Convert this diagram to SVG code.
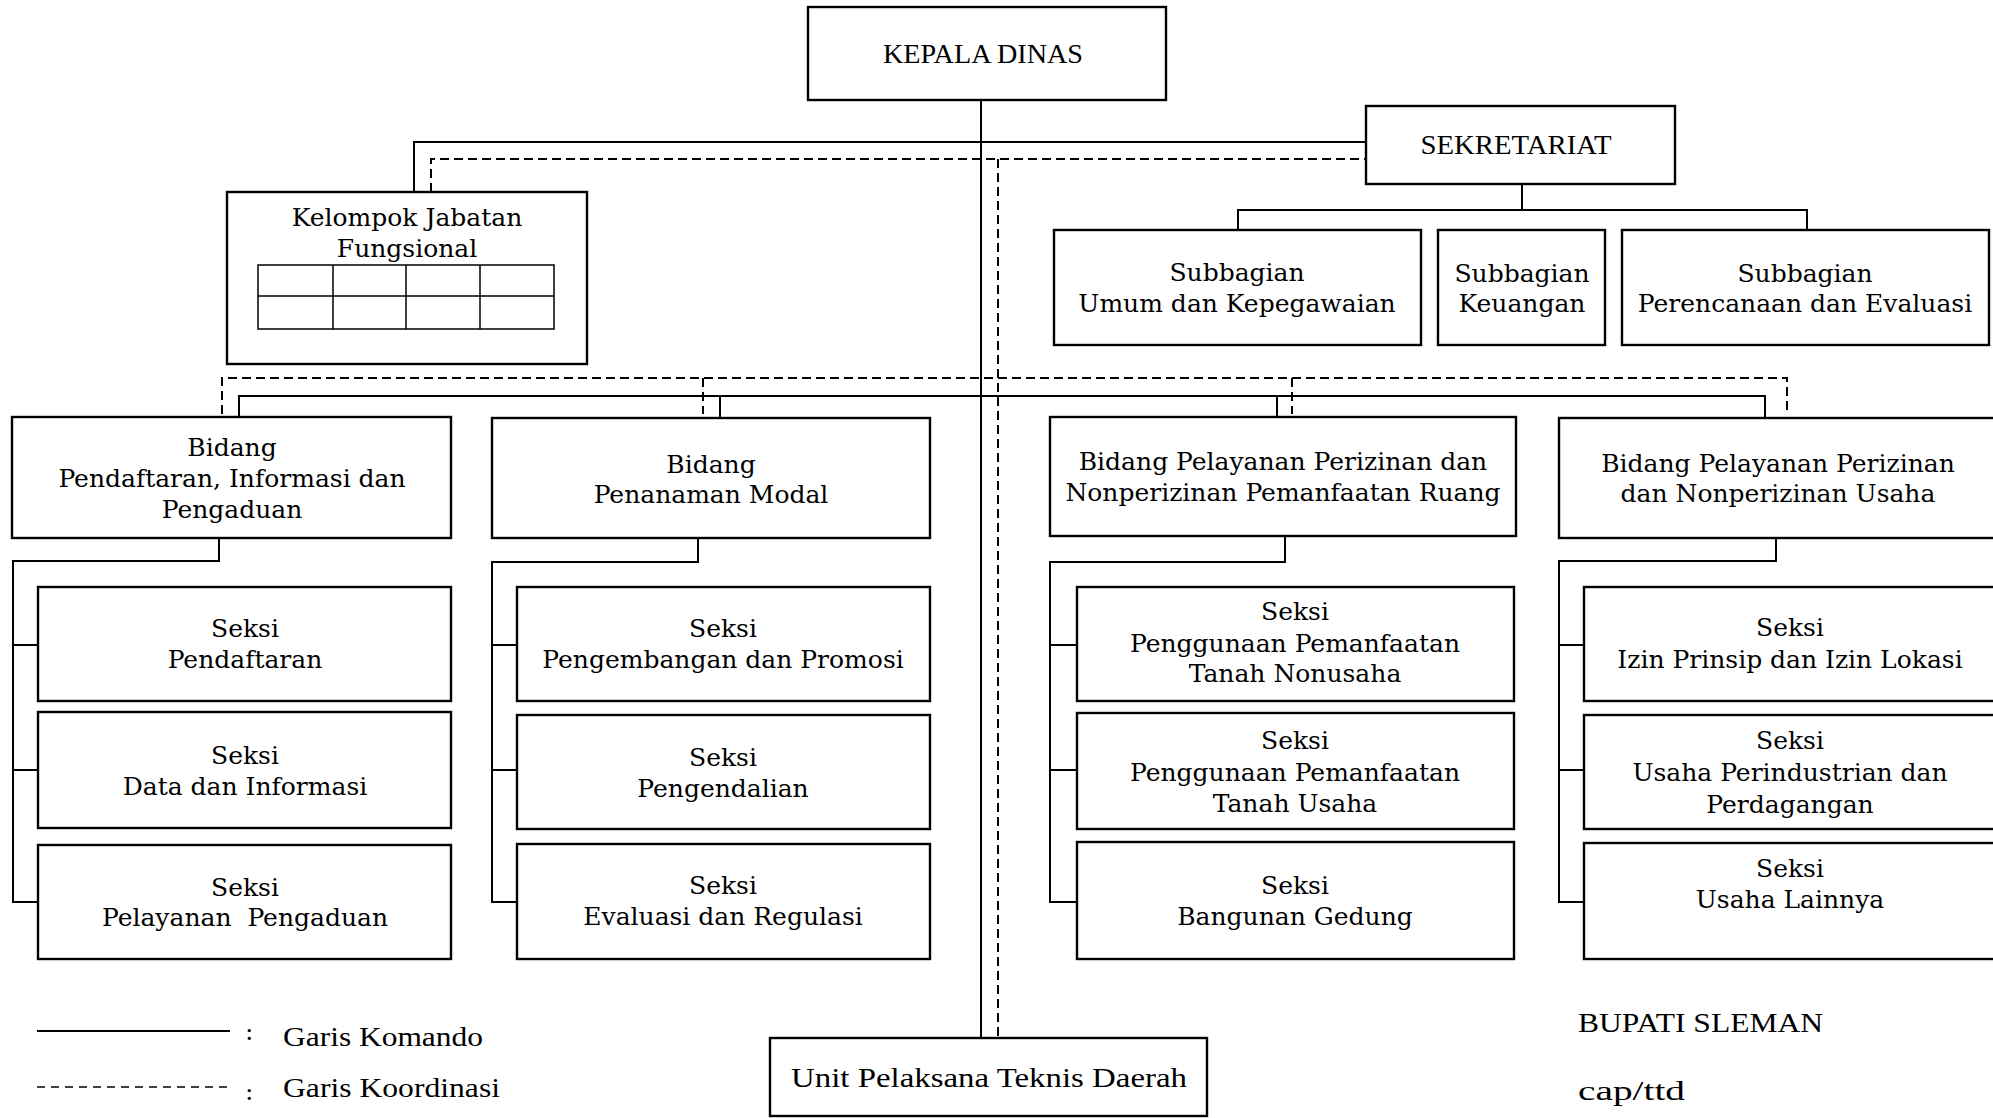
<svg xmlns="http://www.w3.org/2000/svg" width="1993" height="1118" viewBox="0 0 1993 1118">
<style>
.box{fill:#fff;stroke:#000;stroke-width:2.4}
.ln{fill:none;stroke:#000;stroke-width:2}
.dash{fill:none;stroke:#000;stroke-width:2;stroke-dasharray:9 5}
.thin{fill:none;stroke:#000;stroke-width:1.5}
.t{font-family:"DejaVu Serif",serif;font-size:25px;text-anchor:middle;fill:#000}
.s{font-family:"Liberation Serif",serif;font-size:28px;fill:#000}
.l{font-family:"DejaVu Serif",serif;font-size:25px;fill:#000}
</style>
<rect width="1993" height="1118" fill="#fff"/>
<g id="connectors">
<path class="ln" d="M981,100 V1038"/>
<path class="dash" d="M998,159 V1038"/>
<path class="ln" d="M414,192 V142 H1366"/>
<path class="dash" d="M431,192 V159 H1366"/>
<path class="ln" d="M1522,184 V210 M1238,230 V210 H1807 V230"/>
<path class="ln" d="M239,417 V396 H1765 V417 M720,396 V418 M1277,396 V417"/>
<path class="dash" d="M222,414 V378 H1787 V414 M703,378 V414 M1292,378 V414"/>
<path class="ln" d="M219,538 V561 H13 V902 H38 M13,645 H38 M13,770 H38"/>
<path class="ln" d="M698,538 V562 H492 V902 H517 M492,645 H517 M492,770 H517"/>
<path class="ln" d="M1285,536 V562 H1050 V902 H1077 M1050,645 H1077 M1050,770 H1077"/>
<path class="ln" d="M1776,538 V561 H1559 V902 H1584 M1559,645 H1584 M1559,770 H1584"/>
</g>
<g id="kepala-dinas"><rect class="box" x="808" y="7" width="358" height="93"/><text class="s" x="983" y="63" text-anchor="middle" textLength="200" lengthAdjust="spacingAndGlyphs">KEPALA DINAS</text></g>
<g id="sekretariat"><rect class="box" x="1366" y="106" width="309" height="78"/><text class="s" x="1516" y="154" text-anchor="middle" textLength="191" lengthAdjust="spacingAndGlyphs">SEKRETARIAT</text></g>
<g id="kelompok"><rect class="box" x="227" y="192" width="360" height="172"/><text class="t"><tspan x="407" y="226">Kelompok Jabatan</tspan><tspan x="407" y="257">Fungsional</tspan></text>
<rect class="thin" x="258" y="265" width="296" height="64"/><path class="thin" d="M258,296 H554 M333,265 V329 M406,265 V329 M480,265 V329"/></g>
<g id="sub-umum"><rect class="box" x="1054" y="230" width="367" height="115"/><text class="t"><tspan x="1237" y="281">Subbagian</tspan><tspan x="1237" y="312">Umum dan Kepegawaian</tspan></text></g>
<g id="sub-keuangan"><rect class="box" x="1438" y="230" width="167" height="115"/><text class="t"><tspan x="1522" y="282">Subbagian</tspan><tspan x="1522" y="312">Keuangan</tspan></text></g>
<g id="sub-perencanaan"><rect class="box" x="1622" y="230" width="367" height="115"/><text class="t"><tspan x="1805" y="282">Subbagian</tspan><tspan x="1805" y="312">Perencanaan dan Evaluasi</tspan></text></g>
<g id="bidang-1"><rect class="box" x="12" y="417" width="439" height="121"/><text class="t"><tspan x="232" y="456">Bidang</tspan><tspan x="232" y="487">Pendaftaran, Informasi dan</tspan><tspan x="232" y="518">Pengaduan</tspan></text></g>
<g id="bidang-2"><rect class="box" x="492" y="418" width="438" height="120"/><text class="t"><tspan x="711" y="473">Bidang</tspan><tspan x="711" y="503">Penanaman Modal</tspan></text></g>
<g id="bidang-3"><rect class="box" x="1050" y="417" width="466" height="119"/><text class="t"><tspan x="1283" y="470">Bidang Pelayanan Perizinan dan</tspan><tspan x="1283" y="501">Nonperizinan Pemanfaatan Ruang</tspan></text></g>
<g id="bidang-4"><rect class="box" x="1559" y="418" width="450" height="120"/><text class="t"><tspan x="1778" y="472">Bidang Pelayanan Perizinan</tspan><tspan x="1778" y="502">dan Nonperizinan Usaha</tspan></text></g>
<g id="seksi-1a"><rect class="box" x="38" y="587" width="413" height="114"/><text class="t"><tspan x="245" y="637">Seksi</tspan><tspan x="245" y="668">Pendaftaran</tspan></text></g>
<g id="seksi-1b"><rect class="box" x="38" y="712" width="413" height="116"/><text class="t"><tspan x="245" y="764">Seksi</tspan><tspan x="245" y="795">Data dan Informasi</tspan></text></g>
<g id="seksi-1c"><rect class="box" x="38" y="845" width="413" height="114"/><text class="t"><tspan x="245" y="896">Seksi</tspan><tspan x="245" y="926" xml:space="preserve">Pelayanan  Pengaduan</tspan></text></g>
<g id="seksi-2a"><rect class="box" x="517" y="587" width="413" height="114"/><text class="t"><tspan x="723" y="637">Seksi</tspan><tspan x="723" y="668">Pengembangan dan Promosi</tspan></text></g>
<g id="seksi-2b"><rect class="box" x="517" y="715" width="413" height="114"/><text class="t"><tspan x="723" y="766">Seksi</tspan><tspan x="723" y="797">Pengendalian</tspan></text></g>
<g id="seksi-2c"><rect class="box" x="517" y="844" width="413" height="115"/><text class="t"><tspan x="723" y="894">Seksi</tspan><tspan x="723" y="925">Evaluasi dan Regulasi</tspan></text></g>
<g id="seksi-3a"><rect class="box" x="1077" y="587" width="437" height="114"/><text class="t"><tspan x="1295" y="620">Seksi</tspan><tspan x="1295" y="652">Penggunaan Pemanfaatan</tspan><tspan x="1295" y="682">Tanah Nonusaha</tspan></text></g>
<g id="seksi-3b"><rect class="box" x="1077" y="713" width="437" height="116"/><text class="t"><tspan x="1295" y="749">Seksi</tspan><tspan x="1295" y="781">Penggunaan Pemanfaatan</tspan><tspan x="1295" y="812">Tanah Usaha</tspan></text></g>
<g id="seksi-3c"><rect class="box" x="1077" y="842" width="437" height="117"/><text class="t"><tspan x="1295" y="894">Seksi</tspan><tspan x="1295" y="925">Bangunan Gedung</tspan></text></g>
<g id="seksi-4a"><rect class="box" x="1584" y="587" width="425" height="114"/><text class="t"><tspan x="1790" y="636">Seksi</tspan><tspan x="1790" y="668">Izin Prinsip dan Izin Lokasi</tspan></text></g>
<g id="seksi-4b"><rect class="box" x="1584" y="715" width="425" height="114"/><text class="t"><tspan x="1790" y="749">Seksi</tspan><tspan x="1790" y="781">Usaha Perindustrian dan</tspan><tspan x="1790" y="813">Perdagangan</tspan></text></g>
<g id="seksi-4c"><rect class="box" x="1584" y="843" width="425" height="116"/><text class="t"><tspan x="1790" y="877">Seksi</tspan><tspan x="1790" y="908">Usaha Lainnya</tspan></text></g>
<g id="upt"><rect class="box" x="770" y="1038" width="437" height="78"/><text class="s" x="989" y="1087" text-anchor="middle" textLength="396" lengthAdjust="spacingAndGlyphs">Unit Pelaksana Teknis Daerah</text></g>
<g id="legend">
<path class="ln" d="M37,1031 H230"/>
<path fill="none" stroke="#000" stroke-width="1.4" stroke-dasharray="8 6" d="M37,1087 H230"/>
<text class="l" x="245" y="1040">:</text>
<text class="l" x="245" y="1100">:</text>
<text class="s" x="283" y="1046" textLength="200" lengthAdjust="spacingAndGlyphs">Garis Komando</text>
<text class="s" x="283" y="1097" textLength="217" lengthAdjust="spacingAndGlyphs">Garis Koordinasi</text>
</g>
<g id="signature">
<text class="s" x="1578" y="1032" textLength="245" lengthAdjust="spacingAndGlyphs">BUPATI SLEMAN</text>
<text class="s" x="1578" y="1100" textLength="107" lengthAdjust="spacingAndGlyphs">cap/ttd</text>
</g>
</svg>
